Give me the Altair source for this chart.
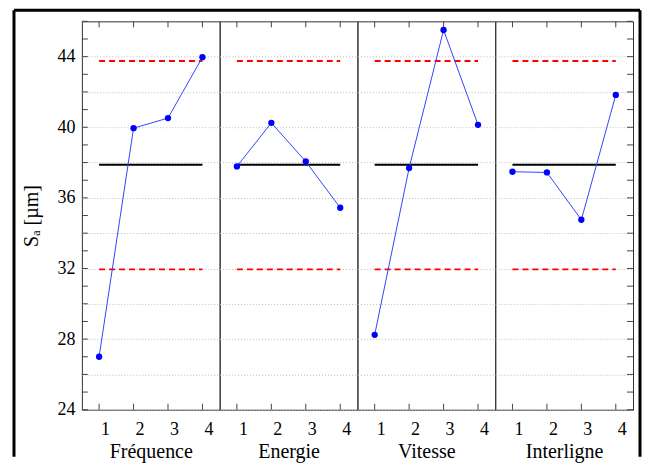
import altair as alt
import pandas as pd

# ---- data ----
factors = ["Fréquence", "Energie", "Vitesse", "Interligne"]
levels = [1, 2, 3, 4]
frequence = [27.0, 39.95, 40.52, 43.97]
energie = [37.78, 40.25, 38.06, 35.44]
vitesse = [28.24, 37.69, 45.51, 40.14]
interligne = [37.48, 37.44, 34.76, 41.83]
series = [frequence, energie, vitesse, interligne]
mean_value = 37.87
upper_limit = 43.76
lower_limit = 31.95
y_grid = [24, 26, 28, 30, 32, 34, 36, 38, 40, 42, 44]
y_minor = list(range(24, 47))

SERIF = "Liberation Serif"
W, H = 138, 389

x_scale = alt.Scale(domain=[0.5, 4.5], nice=False, zero=False)
y_scale = alt.Scale(domain=[24, 46], nice=False, zero=False)


def make_axes(i, name):
    x_axis = alt.Axis(
        values=levels, title=name, ticks=False, domain=False, grid=False,
        labelOffset=6, labelPadding=11, labelFont=SERIF, labelFontSize=18,
        labelColor="black", titleFont=SERIF, titleFontSize=20,
        titleFontWeight="normal", titleColor="black", titlePadding=3,
        labelAngle=0,
    )
    if i == 0:
        y_axis = alt.Axis(
            values=y_grid, labelExpr="datum.value % 4 == 0 ? datum.label : ''",
            title="Sₐ [µm]", ticks=False, domain=False, grid=True,
            gridColor="#bdbdbd", gridDash=[1, 2], labelFont=SERIF,
            labelFontSize=18, labelColor="black", labelPadding=7,
            labelOverlap=False, titleFont=SERIF, titleFontSize=20,
            titleFontWeight="normal", titleColor="black", titlePadding=15,
        )
    else:
        y_axis = alt.Axis(
            values=y_grid, labels=False, ticks=False, domain=False,
            title=None, grid=True, gridColor="#bdbdbd", gridDash=[1, 2],
        )
    return x_axis, y_axis


panels = []
for i, (name, vals) in enumerate(zip(factors, series)):
    x_axis, y_axis = make_axes(i, name)
    df = pd.DataFrame({"level": levels, "value": vals})
    lim = pd.DataFrame({"x": [1, 1, 1], "x2": [4, 4, 4],
                        "y": [mean_value, upper_limit, lower_limit],
                        "kind": ["mean", "upper", "lower"]})
    X = alt.X("level:Q", scale=x_scale, axis=x_axis)
    Y = alt.Y("value:Q", scale=y_scale, axis=y_axis)

    mean_rule = alt.Chart(lim).transform_filter("datum.kind == 'mean'").mark_rule(
        color="black", strokeWidth=2
    ).encode(x=alt.X("x:Q", scale=x_scale, axis=x_axis), x2="x2:Q",
             y=alt.Y("y:Q", scale=y_scale, axis=y_axis))
    lim_rule = alt.Chart(lim).transform_filter("datum.kind != 'mean'").mark_rule(
        color="#ff0000", strokeWidth=2, strokeDash=[6, 4]
    ).encode(x=alt.X("x:Q", scale=x_scale, axis=x_axis), x2="x2:Q",
             y=alt.Y("y:Q", scale=y_scale, axis=y_axis))
    line = alt.Chart(df).mark_line(color="#3344ff", strokeWidth=1).encode(x=X, y=Y)
    pts = alt.Chart(df).mark_circle(color="#0000ff", size=40, opacity=1).encode(x=X, y=Y)

    lv = pd.DataFrame({"level": levels})
    top_ticks = alt.Chart(lv).mark_rule(color="#444").encode(
        x=X, y=alt.value(0), y2=alt.value(6))
    bot_ticks = alt.Chart(lv).mark_rule(color="#444").encode(
        x=X, y=alt.value(H - 6), y2=alt.value(H))

    layers = [mean_rule, lim_rule, line, pts, top_ticks, bot_ticks]

    ym = pd.DataFrame({"t": y_minor})
    if i == 0:
        layers.append(alt.Chart(ym).mark_rule(color="#444").encode(
            y=alt.Y("t:Q", scale=y_scale, axis=y_axis), x=alt.value(0), x2=alt.value(6)))
        one = pd.DataFrame({"d": [0]})
        # outer frame (decoration)
        layers.append(alt.Chart(one).mark_rule(color="black", strokeWidth=3).encode(
            x=alt.value(-68), y=alt.value(-11), y2=alt.value(436)))
        layers.append(alt.Chart(one).mark_rule(color="black", strokeWidth=3).encode(
            x=alt.value(-68), x2=alt.value(559), y=alt.value(-11)))
        layers.append(alt.Chart(one).mark_rule(color="black", strokeWidth=3).encode(
            x=alt.value(559), y=alt.value(-11), y2=alt.value(436)))
    if i == 3:
        layers.append(alt.Chart(ym).mark_rule(color="#444").encode(
            y=alt.Y("t:Q", scale=y_scale, axis=y_axis), x=alt.value(W - 6), x2=alt.value(W)))

    panels.append(alt.layer(*layers).properties(width=W, height=H))

chart = alt.hconcat(*panels, spacing=0, bounds="flush").properties(
    padding={"left": 4, "top": 0, "right": 0, "bottom": 0},
    background="white",
).configure_view(stroke="#333", strokeWidth=1).configure_concat(spacing=0)

chart.save("out.html", embed_options={"renderer": "svg", "actions": False})
